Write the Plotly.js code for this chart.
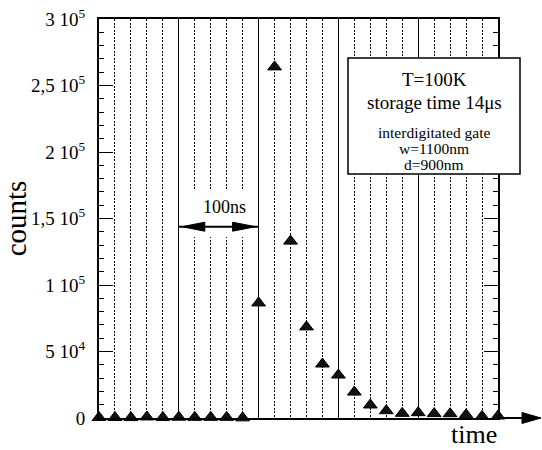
<!DOCTYPE html>
<html><head><meta charset="utf-8">
<script src="https://cdn.plot.ly/plotly-3.0.1.min.js"></script>
<style>html,body{margin:0;padding:0;background:#fff}#chart{width:542px;height:450px}</style>
</head><body><div id="chart"></div>
<script>
// ---- data ----
const timeSlots = [0,1,2,3,4,5,6,7,8,9,10,11,12,13,14,15,16,17,18,19,20,21,22,23,24,25];
const counts = [400,400,300,800,400,600,500,500,500,100,
                86500,264000,133000,68500,40600,32300,19500,9800,5500,3500,
                4000,3300,3200,2400,1200,1500];
const yTickVals = [0,50000,100000,150000,200000,250000,300000];
const yTickText = ['0','5 10<sup>4</sup>','1 10<sup>5</sup>','1,5 10<sup>5</sup>','2 10<sup>5</sup>','2,5 10<sup>5</sup>','3 10<sup>5</sup>'];
const infoLines = ['T=100K','storage time 14μs','interdigitated gate','w=1100nm','d=900nm'];
const spanLabel = '100ns';
const spanStart = 5, spanEnd = 10;
const xTitle = 'time', yTitle = 'counts';

// ---- layout helpers (pixel -> paper) ----
const M = {l:99, r:44, t:19, b:32};
const W = 542 - M.l - M.r, H = 450 - M.t - M.b;
const px = x => (x - M.l) / W;
const py = y => (450 - M.b - y) / H;
const FONT = 'Liberation Serif, Times New Roman, serif';

const trace = {
  x: timeSlots, y: counts, type: 'scatter', mode: 'markers', cliponaxis: false,
  marker: {symbol: 'triangle-up', size: 12, color: '#111', line: {color: '#000', width: 1}},
  hoverinfo: 'skip'
};

const infoY = [79, 102, 132, 148, 164];
const infoSize = [19, 19, 15.5, 15.5, 15.5];
const annotations = infoLines.map((t, i) => ({
  xref: 'paper', yref: 'paper', x: px(434), y: py(infoY[i]), text: t, showarrow: false,
  xanchor: 'center', yanchor: 'middle', font: {family: FONT, size: infoSize[i], color: '#000'}
}));
annotations.push({xref:'paper', yref:'paper', x: px(224), y: py(207), text: spanLabel, showarrow:false,
  xanchor:'center', yanchor:'middle', font:{family:FONT, size:18, color:'#000'}});
annotations.push({xref:'paper', yref:'paper', x: px(474), y: py(450), text: xTitle, showarrow:false,
  xanchor:'center', yanchor:'bottom', borderpad: 0, font:{family:FONT, size:26, color:'#000'}});

const arrowY = py(226.7);
const shapes = [
  {type:'rect', xref:'paper', yref:'paper', x0:px(180), x1:px(257), y0:py(237), y1:py(190),
   fillcolor:'#fff', line:{width:0}, layer:'above'},
  {type:'line', xref:'x', yref:'paper', x0:spanStart, x1:spanEnd, y0:arrowY, y1:arrowY,
   line:{color:'#000', width:2}, layer:'above'},
  {type:'path', xref:'x', yref:'paper', xsizemode:'pixel', ysizemode:'pixel', xanchor:spanStart, yanchor:arrowY,
   path:'M3,0 L26,4.5 L26,-4.5 Z', fillcolor:'#000', line:{color:'#000', width:1}, layer:'above'},
  {type:'path', xref:'x', yref:'paper', xsizemode:'pixel', ysizemode:'pixel', xanchor:spanEnd, yanchor:arrowY,
   path:'M-3,0 L-26,4.5 L-26,-4.5 Z', fillcolor:'#000', line:{color:'#000', width:1}, layer:'above'},
  {type:'rect', xref:'paper', yref:'paper', x0:px(348), x1:px(520), y0:py(174), y1:py(58),
   fillcolor:'#fff', line:{color:'#000', width:1.5}, layer:'above'},
  {type:'line', xref:'paper', yref:'paper', x0:1, x1:px(523), y0:0, y1:0,
   line:{color:'#000', width:2}, layer:'above'},
  {type:'path', xref:'paper', yref:'paper', xsizemode:'pixel', ysizemode:'pixel', xanchor:px(541), yanchor:0,
   path:'M0,0 L-19,5.5 L-19,-5.5 Z', fillcolor:'#000', line:{color:'#000', width:1}, layer:'above'}
];

const layout = {
  width: 542, height: 450, margin: M, showlegend: false,
  paper_bgcolor: '#fff', plot_bgcolor: '#fff',
  font: {family: FONT, color: '#000'},
  xaxis: {
    range: [0, 25], showticklabels: false, ticks: '', zeroline: false,
    showline: true, linewidth: 2, linecolor: '#000', mirror: true,
    showgrid: true, tick0: 0, dtick: 5, gridcolor: '#000', gridwidth: 1,
    minor: {tick0: 0, dtick: 1, showgrid: true, gridcolor: '#000', gridwidth: 1, griddash: '2px,1.5px'}
  },
  yaxis: {
    range: [0, 300000], tickmode: 'array', tickvals: yTickVals, ticktext: yTickText,
    ticks: 'inside', ticklen: 14, tickwidth: 1, tickcolor: '#000',
    showline: true, linewidth: 2, linecolor: '#000', mirror: 'ticks',
    showgrid: false, zeroline: false, ticklabelstandoff: 8,
    tickfont: {family: FONT, size: 19, color: '#000'},
    minor: {tick0: 0, dtick: 10000, ticks: 'inside', ticklen: 5, tickwidth: 1, tickcolor: '#000', showgrid: false},
    title: {text: yTitle, font: {family: FONT, size: 29, color: '#000'}, standoff: 10}
  },
  shapes: shapes, annotations: annotations
};

Plotly.newPlot('chart', [trace], layout, {staticPlot: true, displayModeBar: false});
</script></body></html>
